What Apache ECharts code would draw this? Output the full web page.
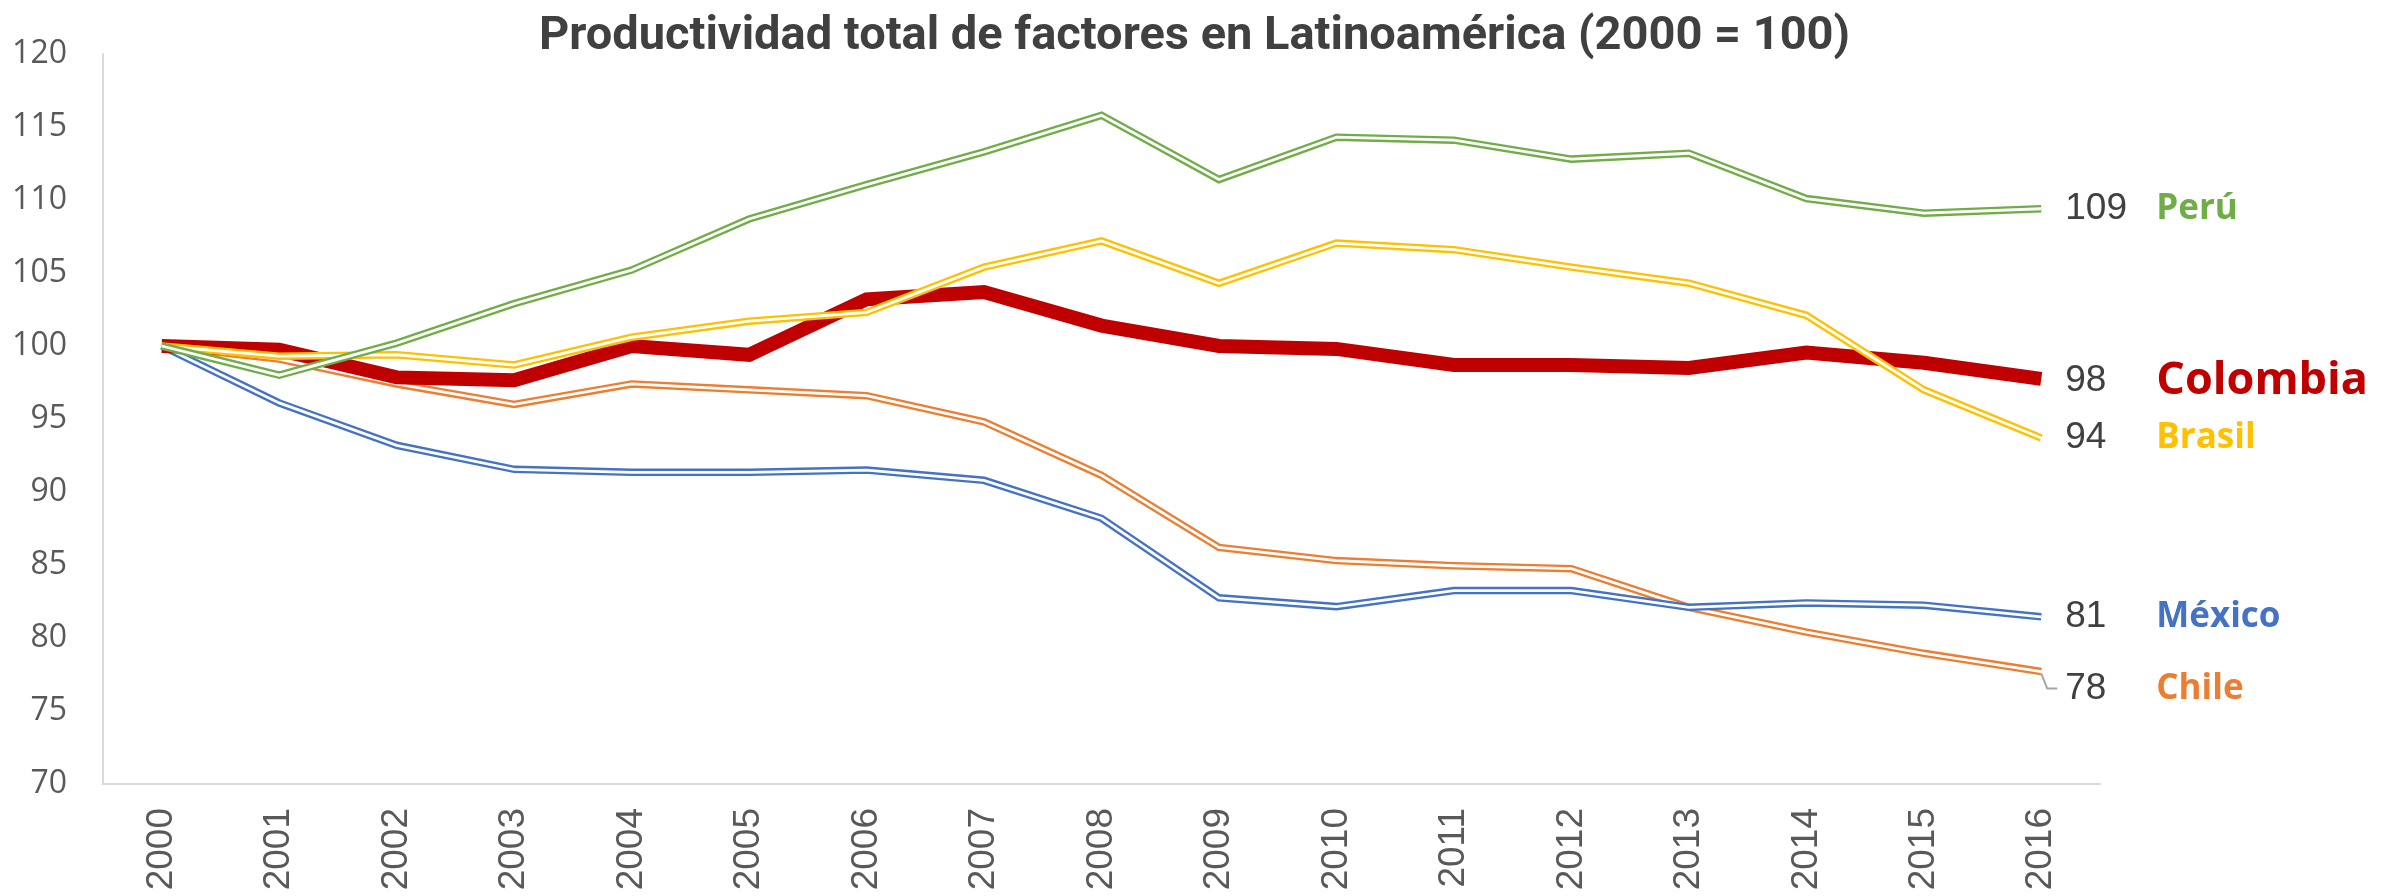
<!DOCTYPE html>
<html>
<head>
<meta charset="utf-8">
<script src="https://cdn.jsdelivr.net/npm/echarts@6/dist/echarts.min.js"></script>
<style>
html,body{margin:0;padding:0;background:#fff;}
#c{width:2389px;height:896px;}
</style>
</head>
<body>
<div id="c"></div>
<script>
const years = ['2000','2001','2002','2003','2004','2005','2006','2007','2008','2009','2010','2011','2012','2013','2014','2015','2016'];
const peru     = [100, 98.0, 100.2, 102.9, 105.2, 108.7, 111.05, 113.3, 115.8, 111.4, 114.3, 114.1, 112.8, 113.2, 110.1, 109.1, 109.4];
const brasil   = [100, 99.3, 99.4, 98.7, 100.6, 101.7, 102.3, 105.4, 107.2, 104.3, 107.05, 106.6, 105.4, 104.3, 102.1, 97.0, 93.7];
const colombia = [100, 99.75, 97.85, 97.65, 100.0, 99.4, 103.2, 103.7, 101.4, 100.0, 99.8, 98.7, 98.7, 98.5, 99.55, 98.85, 97.75];
const chile    = [100, 99.1, 97.4, 96.0, 97.4, 97.0, 96.6, 94.8, 91.15, 86.2, 85.3, 84.95, 84.75, 82.1, 80.4, 78.95, 77.7];
const mexico   = [100, 96.1, 93.2, 91.55, 91.35, 91.35, 91.5, 90.8, 88.2, 82.75, 82.15, 83.25, 83.25, 82.1, 82.4, 82.25, 81.45];
const yTicks   = {min: 70, max: 120, interval: 5};
const title    = 'Productividad total de factores en Latinoamérica (2000 = 100)';

const chart = echarts.init(document.getElementById('c'), null, {renderer: 'canvas'});

function endLbl(name, color, nameSize, offsetY) {
  return {
    show: true,
    distance: 24,
    offset: [0, offsetY || 0],
    formatter: function (p) {
      return '{n|' + Math.round(p.value) + '}{c|' + name + '}';
    },
    rich: {
      n: {fontFamily: 'Liberation Sans, Arial, sans-serif', fontSize: 37, color: '#404040', width: 91, verticalAlign: 'middle'},
      c: {fontFamily: 'Open Sans, sans-serif', fontWeight: 'bold', fontSize: nameSize, color: color, verticalAlign: 'middle'}
    }
  };
}

function doubleLine(name, data, color, nameSize, offsetY) {
  return [
    {
      name: name, type: 'line', data: data, symbol: 'none', silent: true,
      lineStyle: {color: color, width: 7.5, join: 'miter'},
      endLabel: endLbl(name, color, nameSize, offsetY)
    },
    {
      name: name + '_in', type: 'line', data: data, symbol: 'none', silent: true,
      lineStyle: {color: '#ffffff', width: 2.8, join: 'miter'}
    }
  ];
}

const series = [].concat(
  doubleLine('Chile', chile, '#ED7D31', 35, 17),
  doubleLine('México', mexico, '#4472C4', 35, 0),
  [{
    name: 'Colombia', type: 'line', data: colombia, symbol: 'none', silent: true,
    lineStyle: {color: '#C00000', width: 14, join: 'miter'},
    endLabel: endLbl('Colombia', '#C00000', 45, 2)
  }],
  doubleLine('Brasil', brasil, '#FFC000', 35, 0),
  doubleLine('Perú', peru, '#70AD47', 35, 0)
);

chart.setOption({
  animation: false,
  backgroundColor: '#ffffff',
  title: {
    text: title,
    left: 'center',
    top: 9,
    textStyle: {fontFamily: 'Roboto, sans-serif', fontWeight: 'bold', fontSize: 47, color: '#404040'}
  },
  grid: {left: 103, right: 289, top: 54, bottom: 112, containLabel: false},
  xAxis: {
    type: 'category',
    data: years,
    boundaryGap: true,
    axisLine: {show: true, lineStyle: {color: '#D9D9D9', width: 2}},
    axisTick: {show: false},
    axisLabel: {rotate: 90, margin: 24, color: '#595959', fontFamily: 'Liberation Sans, Arial, sans-serif', fontSize: 37}
  },
  yAxis: {
    type: 'value',
    min: yTicks.min, max: yTicks.max, interval: yTicks.interval,
    axisLine: {show: true, lineStyle: {color: '#D9D9D9', width: 2}},
    axisTick: {show: false},
    splitLine: {show: false},
    axisLabel: {margin: 36, color: '#595959', fontFamily: 'Open Sans, sans-serif', fontSize: 32}
  },
  series: series
});

// leader line for the Chile label
const p = chart.convertToPixel({xAxisIndex: 0, yAxisIndex: 0}, [years[years.length - 1], chile[chile.length - 1]]);
chart.setOption({
  graphic: [{
    type: 'polyline', silent: true,
    shape: {points: [[p[0], p[1] + 2], [p[0] + 6, p[1] + 17], [p[0] + 16, p[1] + 17]]},
    style: {stroke: '#A6A6A6', lineWidth: 2, fill: null}
  }]
});
</script>
</body>
</html>
